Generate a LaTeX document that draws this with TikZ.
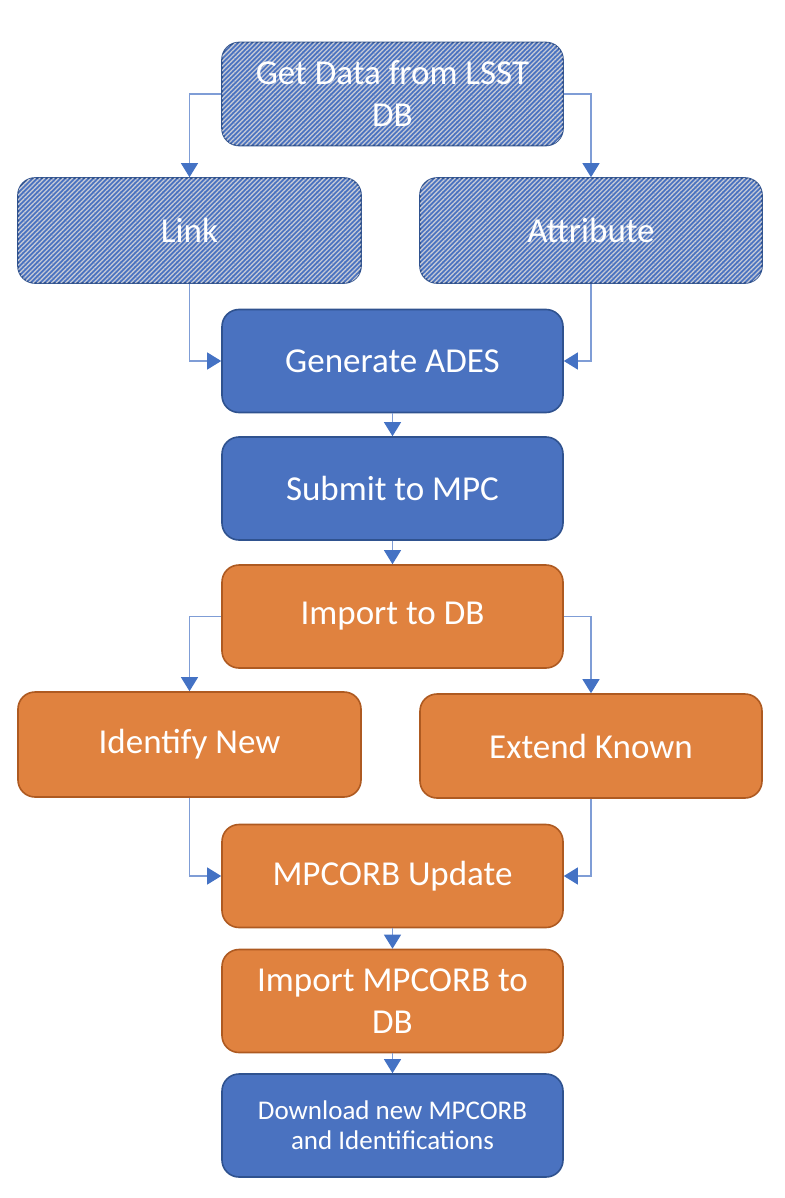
\documentclass[tikz,border=0pt]{standalone}
\usepackage{fontspec}
\setmainfont{Carlito}
\usetikzlibrary{arrows.meta,patterns.meta}
\definecolor{bfill}{HTML}{4A72C0}
\definecolor{bdraw}{HTML}{2F528F}
\definecolor{ofill}{HTML}{E0823F}
\definecolor{odraw}{HTML}{AE5A21}
\definecolor{conncol}{HTML}{7F9DD6}
\definecolor{arrcol}{HTML}{4472C4}
\definecolor{hatchcol}{HTML}{C4C9D6}
\tikzset{
  box/.style={rounded corners=17pt, minimum width=341pt, minimum height=103pt,
    inner sep=0pt, line width=1.6pt, align=center, text=white,
    font=\fontsize{35}{42}\selectfont},
  bluebox/.style={box, fill=bfill, draw=bdraw},
  orangebox/.style={box, fill=ofill, draw=odraw},
  hatchbox/.style={box, fill=bfill, draw=bdraw,
    postaction={pattern={Lines[angle=45,distance=3.3pt,line width=1.3pt]}, pattern color=hatchcol}},
  conn/.style={draw=conncol, line width=1.1pt,
    -{Triangle[width=17pt,length=14pt,fill=arrcol,color=arrcol]}}
}
\begin{document}
\begin{tikzpicture}[x=1pt,y=-1pt]
\useasboundingbox (0,0) rectangle (784,1198);
\node[hatchbox] (get) at (392.5,94) {Get Data from LSST\\DB};
\node[hatchbox, minimum width=343pt, minimum height=105pt] (link) at (189.5,230.5) {Link};
\node[hatchbox, minimum width=342pt, minimum height=105pt] (attr) at (591,230.5) {Attribute};
\node[bluebox] (ades) at (392.5,361) {Generate ADES};
\node[bluebox] (submit) at (392.5,488.5) {Submit to MPC};
\node[orangebox] (import) at (392.5,616.5) {Import to DB};
\node[orangebox, minimum width=343pt, minimum height=105pt] (idnew) at (189.5,744.5) {Identify New};
\node[orangebox, minimum width=342pt, minimum height=104pt] (extend) at (591,746) {Extend Known};
\node[orangebox] (mpcorb) at (392.5,876) {MPCORB Update};
\node[orangebox] (impmpc) at (392.5,1001) {Import MPCORB to\\DB};
\node[bluebox, font=\fontsize{27}{30}\selectfont] (down) at (392.5,1125.5) {Download new MPCORB\\and Identifications};

\draw[conn] (get.west) -| (link.north);
\draw[conn] (get.east) -| (attr.north);
\draw[conn] (link.south) |- (ades.west);
\draw[conn] (attr.south) |- (ades.east);
\draw[conn] (ades.south) -- (submit.north);
\draw[conn] (submit.south) -- (import.north);
\draw[conn] (import.west) -| (idnew.north);
\draw[conn] (import.east) -| (extend.north);
\draw[conn] (idnew.south) |- (mpcorb.west);
\draw[conn] (extend.south) |- (mpcorb.east);
\draw[conn] (mpcorb.south) -- (impmpc.north);
\draw[conn] (impmpc.south) -- (down.north);
\end{tikzpicture}
\end{document}
